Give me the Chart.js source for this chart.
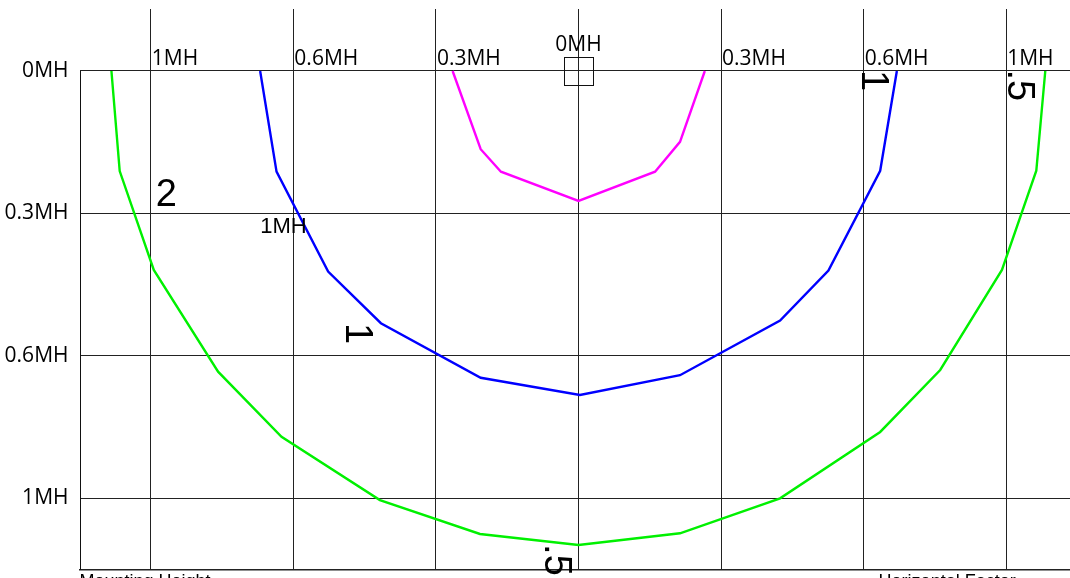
<!DOCTYPE html>
<html>
<head>
<meta charset="utf-8">
<script src="https://cdn.jsdelivr.net/npm/chart.js@4.4.1/dist/chart.umd.min.js"></script>
<style>
  html, body { margin: 0; padding: 0; background: #fff; overflow: hidden; }
  #wrap { width: 1100px; height: 620px; position: relative; }
</style>
</head>
<body>
<div id="wrap"><canvas id="isoChart"></canvas></div>
<script>
  // grid lines (in grid units) and their labels
  const xTicks = [-3, -2, -1, 0, 1, 2, 3];
  const topLabels = ["1MH", "0.6MH", "0.3MH", "0MH", "0.3MH", "0.6MH", "1MH"];
  const yTicks = [0, 1, 2, 3];
  const sideLabels = ["0MH", "0.3MH", "0.6MH", "1MH"];

  // contour curves
  const magentaX = [-0.883, -0.686, -0.544, 0.0, 0.537, 0.712, 0.886];
  const magentaY = [0, 0.549, 0.707, 0.912, 0.707, 0.497, 0];
  const blueX = [-2.233, -2.118, -1.756, -1.386, -0.686, 0.01, 0.712, 1.414, 1.753, 2.116, 2.233];
  const blueY = [0, 0.706, 1.408, 1.77, 2.153, 2.274, 2.135, 1.752, 1.401, 0.7, 0];
  const greenX = [-3.276, -3.218, -2.979, -2.528, -2.083, -1.393, -0.691, 0, 0.712, 1.414, 2.116, 2.537, 2.97, 3.211, 3.274];
  const greenY = [0, 0.702, 1.396, 2.11, 2.567, 3.011, 3.249, 3.326, 3.244, 2.999, 2.533, 2.098, 1.396, 0.7, 0];

  // contour value labels
  const curveLabels = ["2", "1MH", "1", "1", ".5", ".5"];
  const axisTitles = ["Mounting Height", "Horizontal Factor"];

  const toPoints = (xs, ys) => xs.map((x, i) => ({ x, y: ys[i] }));

  const lineSet = (data, color) => ({
    data,
    borderColor: color,
    borderWidth: 2.4,
    pointRadius: 0,
    tension: 0,
    fill: false,
  });

  // extra drawing: left edge, origin box, labels
  const overlay = {
    id: "overlay",
    afterDraw(chart) {
      const { ctx, chartArea, scales } = chart;
      const xs = scales.x, ys = scales.y;
      const y0 = ys.getPixelForValue(0);

      ctx.save();
      ctx.strokeStyle = "#111";
      ctx.lineWidth = 1;
      ctx.beginPath();
      ctx.moveTo(Math.round(chartArea.left) + 0.5, y0);
      ctx.lineTo(Math.round(chartArea.left) + 0.5, chartArea.bottom);
      ctx.stroke();

      // small box at origin
      const cx = xs.getPixelForValue(0);
      ctx.strokeRect(Math.round(cx - 15) + 0.5, Math.round(y0 - 14) + 0.5, 29, 28);

      // top labels
      ctx.fillStyle = "#000";
      ctx.font = "21px 'Open Sans'";
      ctx.textBaseline = "alphabetic";
      xTicks.forEach((t, i) => {
        const px = xs.getPixelForValue(t);
        if (t === 0) {
          ctx.textAlign = "center";
          ctx.fillText(topLabels[i], px, y0 - 20);
        } else {
          ctx.textAlign = "left";
          ctx.fillText(topLabels[i], px + 1, y0 - 6);
        }
      });

      // contour labels
      ctx.font = "38px 'Liberation Sans'";
      ctx.textAlign = "left";
      ctx.fillText(curveLabels[0], xs.getPixelForValue(-2.965), ys.getPixelForValue(0.947));
      ctx.font = "22px 'Liberation Sans'";
      ctx.fillText(curveLabels[1], xs.getPixelForValue(-2.232), ys.getPixelForValue(1.139));

      ctx.font = "38px 'Liberation Sans'";
      const rotated = [
        [curveLabels[2], -1.634, 1.768],
        [curveLabels[3], 1.988, -0.007],
        [curveLabels[4], 3.016, -0.01],
        [curveLabels[5], -0.237, 3.32],
      ];
      rotated.forEach(([txt, vx, vy]) => {
        ctx.save();
        ctx.translate(xs.getPixelForValue(vx), ys.getPixelForValue(vy));
        ctx.rotate(Math.PI / 2);
        ctx.fillText(txt, 0, 0);
        ctx.restore();
      });

      // axis titles (mostly below the visible area)
      ctx.font = "18px 'Liberation Sans'";
      ctx.textBaseline = "top";
      ctx.fillText(axisTitles[0], chartArea.left, chartArea.bottom + 3);
      ctx.fillText(axisTitles[1], xs.getPixelForValue(2.105), chartArea.bottom + 3);
      ctx.restore();
    },
  };

  new Chart(document.getElementById("isoChart"), {
    type: "line",
    data: {
      datasets: [
        lineSet(toPoints(greenX, greenY), "#00f000"),
        lineSet(toPoints(blueX, blueY), "#0000ff"),
        lineSet(toPoints(magentaX, magentaY), "#ff00ff"),
      ],
    },
    options: {
      responsive: true,
      maintainAspectRatio: false,
      devicePixelRatio: 1,
      animation: false,
      layout: { padding: { left: 0, top: 9, right: 22.5, bottom: 0 } },
      plugins: { legend: { display: false }, tooltip: { enabled: false } },
      scales: {
        x: {
          type: "linear",
          min: -3.5,
          max: 3.5,
          afterBuildTicks: (s) => { s.ticks = xTicks.map((v) => ({ value: v })); },
          afterFit: (s) => {
            s.height = 50.25;
            s.paddingLeft = 0; s.paddingRight = 0;
          },
          ticks: { display: false },
          grid: { color: "#222", lineWidth: 1, drawTicks: false },
          border: { display: true, color: "#222", width: 1.5 },
        },
        y: {
          type: "linear",
          min: -0.435,
          max: 3.5,
          reverse: true,
          afterBuildTicks: (s) => { s.ticks = yTicks.map((v) => ({ value: v })); },
          afterFit: (s) => {
            s.width = 79.5;
            s.paddingTop = 0; s.paddingBottom = 0;
          },
          ticks: {
            padding: 11,
            color: "#000",
            font: { family: "'Open Sans'", size: 21 },
            callback: (v) => sideLabels[yTicks.indexOf(v)],
          },
          grid: { color: "#222", lineWidth: 1, drawTicks: false },
          border: { display: false },
        },
      },
    },
    plugins: [overlay],
  });
</script>
</body>
</html>
